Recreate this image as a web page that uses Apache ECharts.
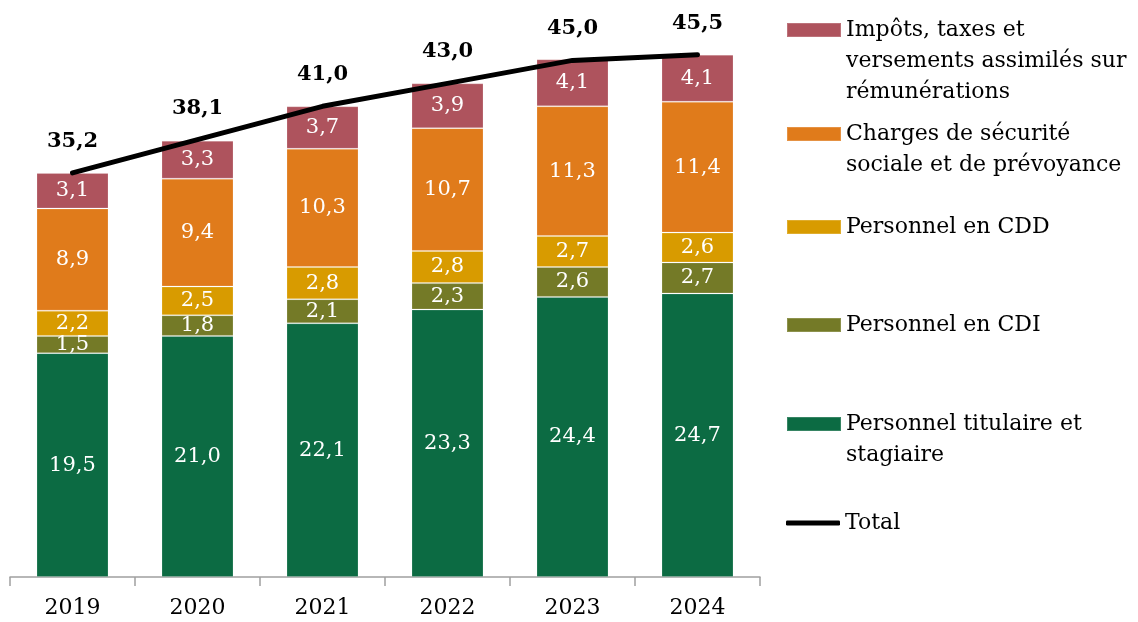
<!DOCTYPE html>
<html><head><meta charset="utf-8">
<script src="https://cdn.jsdelivr.net/npm/echarts@6/dist/echarts.min.js"></script>
<style>html,body{margin:0;padding:0;background:#fff}#c{width:1138px;height:622px}</style>
</head><body><div id="c"></div>
<script>
const categories = ['2019','2020','2021','2022','2023','2024'];
const titulaire = [19.5, 21.0, 22.1, 23.3, 24.4, 24.7];
const cdi = [1.5, 1.8, 2.1, 2.3, 2.6, 2.7];
const cdd = [2.2, 2.5, 2.8, 2.8, 2.7, 2.6];
const charges = [8.9, 9.4, 10.3, 10.7, 11.3, 11.4];
const impots = [3.1, 3.3, 3.7, 3.9, 4.1, 4.1];
const total = [35.2, 38.1, 41.0, 43.0, 45.0, 45.5];

const names = {
  titulaire: 'Personnel titulaire et stagiaire',
  cdi: 'Personnel en CDI',
  cdd: 'Personnel en CDD',
  charges: 'Charges de sécurité sociale et de prévoyance',
  impots: 'Impôts, taxes et versements assimilés sur rémunérations',
  total: 'Total'
};
const legendText = {
  [names.impots]: 'Impôts, taxes et\nversements assimilés sur\nrémunérations',
  [names.charges]: 'Charges de sécurité\nsociale et de prévoyance',
  [names.cdd]: 'Personnel en CDD',
  [names.cdi]: 'Personnel en CDI',
  [names.titulaire]: 'Personnel titulaire et\nstagiaire',
  [names.total]: 'Total'
};
const colors = {
  titulaire: '#0c6b43', cdi: '#747a27', cdd: '#d89b00', charges: '#e07b1b', impots: '#ae535d'
};
const FONT = 'DejaVu Serif';
const fmt = v => Number(v).toFixed(1).replace('.', ',');

function barSeries(key, data) {
  return {
    type: 'bar', name: names[key], stack: 's', data: data, barWidth: 72,
    itemStyle: { color: colors[key], borderColor: 'rgba(255,255,255,0.18)', borderWidth: 1 },
    label: { show: true, position: 'inside', color: '#fff', fontFamily: FONT, fontSize: 21,
      formatter: p => fmt(p.value) },
    emphasis: { disabled: true }
  };
}

const L = 31, H = 14;
function legendFor(name, iconTop, isLine) {
  const lines = legendText[name].split('\n');
  const n = lines.length;
  const ih = isLine ? 5 : H;
  const boxOffset = ih / 2 - (2 * n - 1) * L / 2;
  const padded = new Array(n - 1).fill(' ').concat(lines).join('\n');
  return {
    data: [name], left: 786, top: iconTop + boxOffset, padding: 0,
    orient: 'vertical', itemWidth: 54, itemHeight: ih,
    icon: isLine ? 'roundRect' : 'rect',
    formatter: () => padded,
    textStyle: { fontFamily: FONT, fontSize: 22, color: '#000', lineHeight: L },
    selectedMode: false
  };
}

const chart = echarts.init(document.getElementById('c'), null, { renderer: 'canvas' });
chart.setOption({
  animation: false,
  textStyle: { fontFamily: FONT },
  grid: { left: 10, right: 378, top: 3, bottom: 45, containLabel: false },
  legend: [
    legendFor(names.impots, 23),
    legendFor(names.charges, 127),
    legendFor(names.cdd, 220),
    legendFor(names.cdi, 318),
    legendFor(names.titulaire, 417),
    legendFor(names.total, 520.5, true)
  ],
  xAxis: {
    type: 'category', data: categories,
    axisLine: { lineStyle: { color: '#a0a0a0', width: 1.5 } },
    axisTick: { show: true, length: 9, alignWithLabel: false, lineStyle: { color: '#a0a0a0', width: 1.5 } },
    axisLabel: { color: '#000', fontFamily: FONT, fontSize: 22, margin: 20 }
  },
  yAxis: { type: 'value', min: 0, max: 50, show: false, splitLine: { show: false } },
  series: [
    barSeries('titulaire', titulaire),
    barSeries('cdi', cdi),
    barSeries('cdd', cdd),
    barSeries('charges', charges),
    barSeries('impots', impots),
    {
      type: 'line', name: names.total, data: total,
      symbol: 'circle', symbolSize: 2, showSymbol: true,
      lineStyle: { color: '#000', width: 5, cap: 'round' },
      itemStyle: { color: '#000' },
      label: { show: true, position: 'top', distance: 20, color: '#000', fontWeight: 'bold',
        fontFamily: FONT, fontSize: 21, formatter: p => fmt(p.value) },
      emphasis: { disabled: true },
      z: 5
    }
  ]
});
</script></body></html>
